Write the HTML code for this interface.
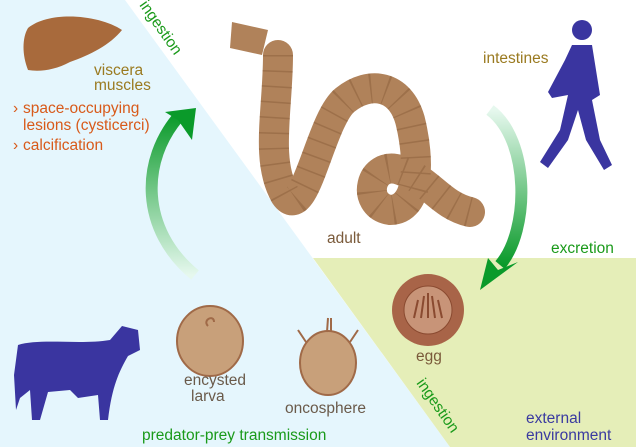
<!DOCTYPE html>
<html><head><meta charset="utf-8"><style>
body{margin:0;background:#fff}
svg{display:block;font-family:"Liberation Sans",sans-serif}
</style></head><body>
<svg width="636" height="447" viewBox="0 0 636 447">
<defs>
<linearGradient id="ga" x1="0" y1="1" x2="0" y2="0"><stop offset="0" stop-color="#e6f8ee"/><stop offset="1" stop-color="#0a9a2a"/></linearGradient>
<linearGradient id="gb" x1="0" y1="0" x2="0" y2="1"><stop offset="0" stop-color="#e6f8ee"/><stop offset="1" stop-color="#0a9a2a"/></linearGradient>
</defs>
<rect width="636" height="447" fill="#fff"/>
<polygon points="0,0 125,0 450,447 0,447" fill="#e5f6fd"/>
<polygon points="313,258 636,258 636,447 450,447" fill="#e5eeb8"/>
<path d="M28,28 C50,10 100,15 122,30 C110,45 90,55 70,62 C55,70 40,72 28,70 C22,55 22,38 28,28Z" fill="#a86a3c"/>
<g font-size="15.5">
<text x="94" y="75" fill="#9a7a20">viscera</text>
<text x="94" y="90" fill="#9a7a20">muscles</text>
<text x="13" y="113" fill="#d85a1a">›</text>
<text x="23" y="113" fill="#d85a1a">space-occupying</text>
<text x="23" y="130" fill="#d85a1a">lesions (cysticerci)</text>
<text x="13" y="150" fill="#d85a1a">›</text>
<text x="23" y="150" fill="#d85a1a">calcification</text>
<text x="0" y="0" fill="#1a9a1a" transform="translate(139,5) rotate(55)">ingestion</text>
</g>
<path d="M232,22 L268,30 L262,55 L230,48Z" fill="#b0825a"/>
<path d="M278,55 C278,110 265,160 285,195 C305,225 320,120 345,100 C370,80 400,85 410,120 C420,160 420,210 390,210 C360,205 370,160 400,170 C430,180 440,205 470,212" fill="none" stroke="#b0825a" stroke-width="30" stroke-linecap="round"/>
<path d="M278,55 C278,110 265,160 285,195 C305,225 320,120 345,100 C370,80 400,85 410,120 C420,160 420,210 390,210 C360,205 370,160 400,170 C430,180 440,205 470,212" fill="none" stroke="#8a5e3a" stroke-width="30" stroke-dasharray="1.5 14" opacity="0.5"/>
<g fill="#3a35a0">
<circle cx="582" cy="30" r="10"/>
<path d="M572,45 L592,45 L600,95 L592,100 L600,140 L612,165 L604,170 L586,140 L578,110 L568,140 L548,168 L540,162 L560,130 L568,95 L552,98 L548,92 L565,60Z"/>
</g>
<path d="M490,110 C530,140 530,230 500,265" fill="none" stroke="url(#gb)" stroke-width="12"/>
<polygon points="480,290 488,258 498,270 518,262" fill="#0a9a2a"/>
<path d="M195,275 C140,230 140,160 180,115" fill="none" stroke="url(#ga)" stroke-width="12"/>
<polygon points="196,108 165,112 178,120 192,140" fill="#0a9a2a"/>
<circle cx="428" cy="310" r="36" fill="#a86448"/>
<circle cx="428" cy="310" r="24" fill="#c89478" stroke="#8a4a30"/>
<path d="M414,318 L418,300 M421,318 L424,296 M428,318 L428,293 M435,318 L432,296 M442,318 L438,300" stroke="#8a4a30" stroke-width="2"/>
<ellipse cx="210" cy="341" rx="33" ry="35" fill="#c8a07a" stroke="#a06a48" stroke-width="2"/>
<path d="M208,326 C202,320 214,314 214,322" fill="none" stroke="#a06a48" stroke-width="2"/>
<ellipse cx="328" cy="363" rx="28" ry="32" fill="#c8a07a" stroke="#a06a48" stroke-width="2"/>
<path d="M327,332 L328,318 M331,332 L331,318 M306,342 L298,330 M350,342 L358,330" stroke="#a06a48" stroke-width="2"/>
<g font-size="15.5">
<text x="327" y="243" fill="#7a5a3a">adult</text>
<text x="483" y="63" fill="#9a7a20">intestines</text>
<text x="551" y="253" fill="#1a9a1a">excretion</text>
<text x="416" y="361" fill="#7a5a3a">egg</text>
<text x="184" y="385" fill="#6a5a4a">encysted</text>
<text x="191" y="401" fill="#6a5a4a">larva</text>
<text x="285" y="413" fill="#6a5a4a">oncosphere</text>
<text x="142" y="440" fill="#1a9a1a">predator-prey transmission</text>
<text x="0" y="0" fill="#1a9a1a" transform="translate(416,383) rotate(55)">ingestion</text>
<text x="526" y="423" fill="#3a3aa0">external</text>
<text x="526" y="440" fill="#3a3aa0">environment</text>
</g>
<g fill="#3a35a0">
<path d="M18,345 C40,338 80,345 110,340 L122,326 L138,330 L140,350 L128,356 C120,370 112,385 108,420 L100,420 L98,395 L78,398 L70,390 L48,392 L40,420 L32,420 L30,390 L20,398 L16,410 L14,375 Z"/>
</g>
</svg>
</body></html>
